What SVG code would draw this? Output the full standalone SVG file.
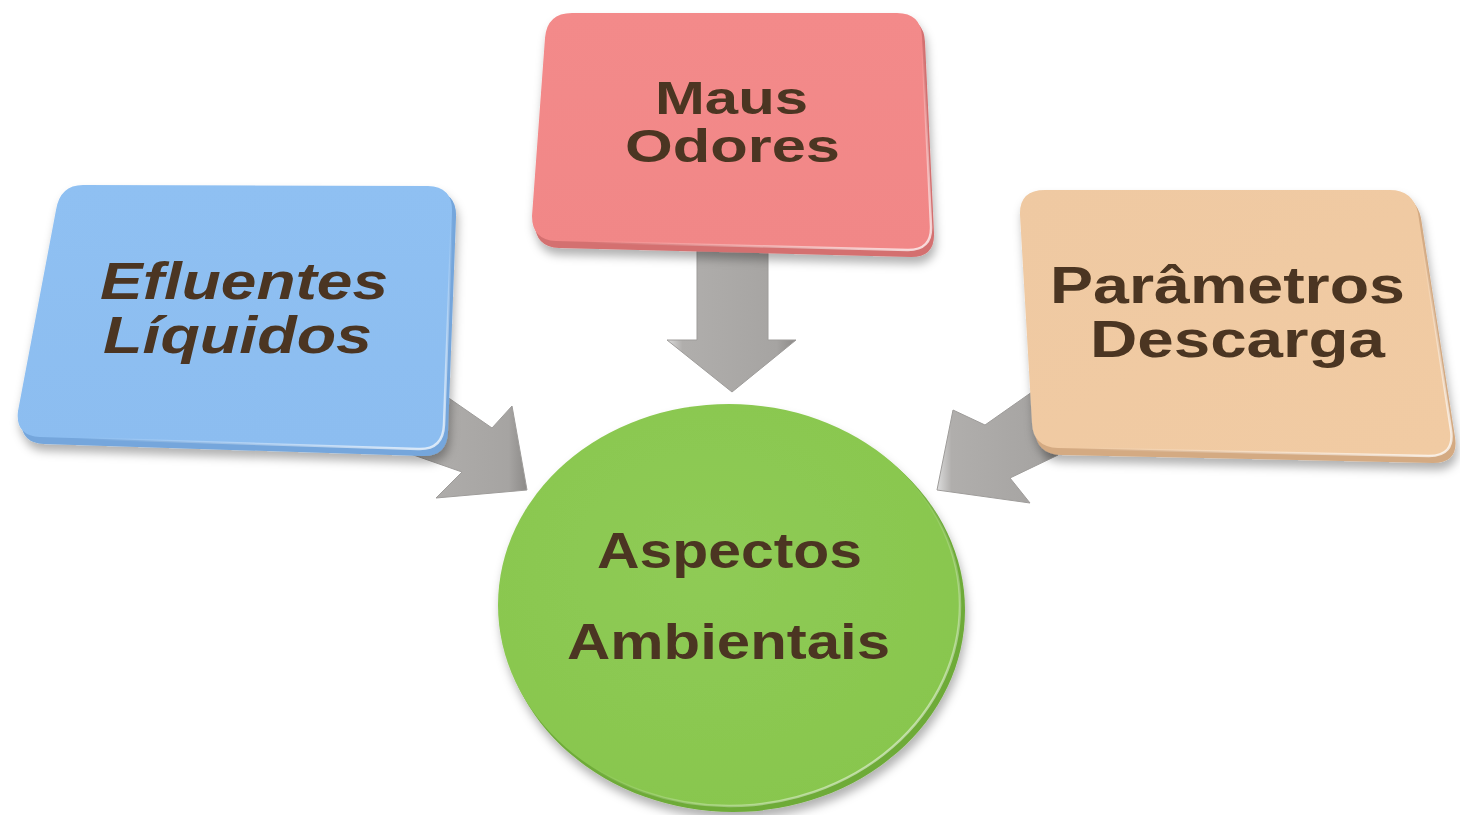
<svg xmlns="http://www.w3.org/2000/svg" width="1460" height="815" viewBox="0 0 1460 815">
<defs>
<filter id="sh" x="-10%" y="-10%" width="120%" height="130%">
<feDropShadow dx="2" dy="7" stdDeviation="5" flood-color="#000" flood-opacity="0.3"/>
</filter>
<linearGradient id="gArrow" x1="0" y1="0" x2="1" y2="0">
<stop offset="0" stop-color="#dcdcdc"/>
<stop offset="0.12" stop-color="#b0aeac"/>
<stop offset="0.85" stop-color="#a6a4a2"/>
<stop offset="1" stop-color="#8c8a88"/>
</linearGradient>
<linearGradient id="gBlue" x1="0" y1="0" x2="0" y2="1">
<stop offset="0" stop-color="#8fc0f2"/>
<stop offset="1" stop-color="#8cbdf0"/>
</linearGradient>
<linearGradient id="gPink" x1="0" y1="0" x2="0" y2="1">
<stop offset="0" stop-color="#f38a8a"/>
<stop offset="1" stop-color="#f18787"/>
</linearGradient>
<linearGradient id="gPeach" x1="0" y1="0" x2="1" y2="1">
<stop offset="0" stop-color="#efc9a2"/>
<stop offset="1" stop-color="#f1cba3"/>
</linearGradient>
<radialGradient id="gGreen" cx="0.45" cy="0.4" r="0.65">
<stop offset="0" stop-color="#8fcb55"/>
<stop offset="1" stop-color="#88c64e"/>
</radialGradient>
<linearGradient id="hl" x1="0" y1="0" x2="1" y2="1">
<stop offset="0.55" stop-color="#ffffff" stop-opacity="0"/>
<stop offset="1" stop-color="#ffffff" stop-opacity="0.75"/>
</linearGradient>
</defs>
<style>
.lbl{font-family:"Liberation Sans",Arial,sans-serif;font-weight:bold;fill:#4b3621;}
.it{font-style:italic;}
.arrow{fill:url(#gArrow);stroke:#9e9c9a;stroke-width:1;}
.face{stroke:url(#hl);stroke-width:2.5;}
.rimB{fill:#74a6dc;}
.rimP{fill:#d47070;}
.rimE{fill:#d4aa82;}
.rimG{fill:#6eab38;}
</style>
<rect width="1460" height="815" fill="#ffffff"/>

<g id="connectors">
<polygon class="arrow" points="440,392 492,428 512,406 527,490 436,498 462,472 405,452"/>
<polygon class="arrow" points="697,240 768,240 768,340 796,340 732,392 667,340 697,340"/>
<polygon class="arrow" points="1032,392 985,425 953,410 937,490 1030,503 1010,478 1058,455"/>
</g>

<g id="node-efluentes" filter="url(#sh)">
<path class="rimB" d="M 87,190 L 432,191 Q 457,192 456,217 L 448,432 Q 447,457 422,456 L 44,444 Q 19,443 22,418 L 60,215 Q 64,190 87,190 Z"/>
<path class="face" fill="url(#gBlue)" d="M 83,185 L 428,186 Q 453,187 452,212 L 444,425 Q 443,450 418,449 L 40,437 Q 15,436 18,411 L 56,210 Q 60,185 83,185 Z"/>
<text class="lbl it" x="100" y="299" font-size="52" textLength="288" lengthAdjust="spacingAndGlyphs">Efluentes</text>
<text class="lbl it" x="103" y="353" font-size="52" textLength="269" lengthAdjust="spacingAndGlyphs">Líquidos</text>
</g>

<g id="node-maus" filter="url(#sh)">
<path class="rimP" d="M 575,18 L 900,18 Q 924,18 925,42 L 934,233 Q 935,257 911,257 L 559,248 Q 535,247 535,223 L 548,43 Q 550,18 575,18 Z"/>
<path class="face" fill="url(#gPink)" d="M 572,13 L 897,13 Q 921,13 922,37 L 931,226 Q 932,250 908,250 L 556,241 Q 532,240 532,216 L 545,38 Q 547,13 572,13 Z"/>
<text class="lbl" x="655" y="114" font-size="46" textLength="153" lengthAdjust="spacingAndGlyphs">Maus</text>
<text class="lbl" x="625" y="162" font-size="46" textLength="215" lengthAdjust="spacingAndGlyphs">Odores</text>
</g>

<g id="node-parametros" filter="url(#sh)">
<path class="rimE" d="M 1048,195 L 1393,195 Q 1416,195 1421,218 L 1455,437 Q 1459,463 1433,463 L 1061,455 Q 1036,454 1035,430 L 1023,220 Q 1022,195 1048,195 Z"/>
<path class="face" fill="url(#gPeach)" d="M 1045,190 L 1390,190 Q 1413,190 1418,213 L 1451,430 Q 1455,456 1429,456 L 1058,448 Q 1033,447 1032,423 L 1020,215 Q 1019,190 1045,190 Z"/>
<text class="lbl" x="1050" y="303" font-size="52" textLength="355" lengthAdjust="spacingAndGlyphs">Parâmetros</text>
<text class="lbl" x="1090" y="357" font-size="52" textLength="295" lengthAdjust="spacingAndGlyphs">Descarga</text>
</g>

<g id="node-aspectos" filter="url(#sh)">
<ellipse class="rimG" cx="733" cy="610" rx="232" ry="202"/>
<ellipse class="face" fill="url(#gGreen)" cx="729" cy="605" rx="231" ry="201"/>
<text class="lbl" x="597" y="568" font-size="50" textLength="265" lengthAdjust="spacingAndGlyphs">Aspectos</text>
<text class="lbl" x="567" y="659" font-size="50" textLength="323" lengthAdjust="spacingAndGlyphs">Ambientais</text>
</g>
</svg>
